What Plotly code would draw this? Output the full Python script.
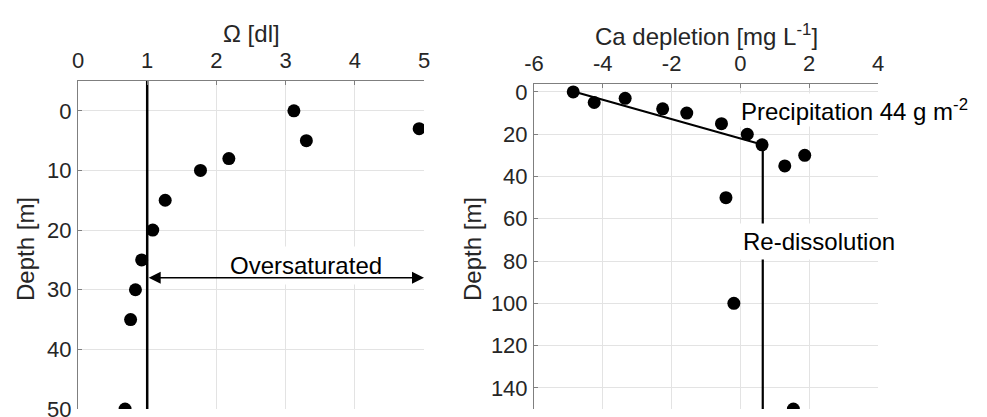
import plotly.graph_objects as go

# ---------------- data ----------------
# Left panel: saturation state Omega vs depth
omega = [3.12, 4.93, 3.30, 2.18, 1.77, 1.26, 1.08, 0.92, 0.83, 0.76, 0.68]
omega_depth = [0, 3, 5, 8, 10, 15, 20, 25, 30, 35, 50]
sat_x = [1, 1]
sat_y = [-5, 50]
omega_ticks = [0, 1, 2, 3, 4, 5]
depth_ticks_left = [0, 10, 20, 30, 40, 50]

# Right panel: Ca depletion vs depth
ca_dep = [-4.86, -4.25, -3.35, -2.26, -1.56, -0.55, 0.20, 0.63, 1.87, 1.29, -0.42, -0.19, 1.54]
ca_depth = [0, 5, 3, 8, 10, 15, 20, 25, 30, 35, 50, 100, 150]
fit_x = [-4.8, 0.65, 0.65]
fit_y = [0, 25, 150]
ca_ticks = [-6, -4, -2, 0, 2, 4]
ca_tick_labels = ["-6", "-4", "-2", "0", "2", "4"]
depth_ticks_right = [0, 20, 40, 60, 80, 100, 120, 140]

W, H = 987, 417
T, B = 81, 8
PH = H - T - B


def px(x):
    return x / W


def py(y):
    return (H - B - y) / PH


FONT = "Liberation Sans, Arial, sans-serif"
TXT = "#262626"
AX = "#7f7f7f"
GRID = "#e3e3e3"

fig = go.Figure()

fig.add_trace(go.Scatter(x=sat_x, y=sat_y, mode="lines",
                         line=dict(color="black", width=2.5),
                         xaxis="x", yaxis="y", showlegend=False, hoverinfo="skip"))
fig.add_trace(go.Scatter(x=omega, y=omega_depth, mode="markers",
                         marker=dict(color="black", size=13),
                         xaxis="x", yaxis="y", showlegend=False))

fig.add_trace(go.Scatter(x=fit_x, y=fit_y, mode="lines",
                         line=dict(color="black", width=2.2),
                         xaxis="x2", yaxis="y2", showlegend=False, hoverinfo="skip"))
fig.add_trace(go.Scatter(x=ca_dep, y=ca_depth, mode="markers",
                         marker=dict(color="black", size=13),
                         xaxis="x2", yaxis="y2", showlegend=False))

axcommon = dict(showline=True, linecolor=AX, linewidth=1, showgrid=True,
                gridcolor=GRID, gridwidth=1, zeroline=False,
                ticks="inside", ticklen=4, tickcolor=AX,
                tickfont=dict(family=FONT, size=22, color=TXT),
                ticklabeloverflow="allow", automargin=False)

fig.update_layout(
    width=W, height=H,
    margin=dict(l=0, r=0, t=T, b=B, pad=0),
    paper_bgcolor="white", plot_bgcolor="white",
    xaxis=dict(domain=[px(78), px(424)], range=[0, 5], side="top",
               tickvals=omega_ticks, anchor="y", ticklabelstandoff=3, **axcommon),
    yaxis=dict(domain=[0, 1], range=[50, -5], tickvals=depth_ticks_left,
               anchor="x", ticklabelstandoff=1, **axcommon),
    xaxis2=dict(domain=[px(534), px(878)], range=[-6, 4], side="top",
                tickvals=ca_ticks, ticktext=ca_tick_labels, anchor="y2",
                ticklabelstandoff=3, **axcommon),
    yaxis2=dict(domain=[0, py(83.5)], range=[150, -4], tickvals=depth_ticks_right,
                anchor="x2", ticklabelstandoff=1, **axcommon),
)

ann = []
# axis titles
ann.append(dict(text="Ω [dl]", xref="paper", yref="paper", x=px(251), y=py(34),
                showarrow=False, xanchor="center", yanchor="middle",
                font=dict(family=FONT, size=24, color=TXT)))
ann.append(dict(text="Ca depletion [mg L<sup>-1</sup>]", xref="paper", yref="paper",
                x=px(706), y=py(35), showarrow=False, xanchor="center", yanchor="middle",
                font=dict(family=FONT, size=24, color=TXT)))
ann.append(dict(text="Depth [m]", xref="paper", yref="paper", x=px(25), y=py(249),
                showarrow=False, textangle=-90, xanchor="center", yanchor="middle",
                font=dict(family=FONT, size=24, color=TXT)))
ann.append(dict(text="Depth [m]", xref="paper", yref="paper", x=px(472), y=py(249),
                showarrow=False, textangle=-90, xanchor="center", yanchor="middle",
                font=dict(family=FONT, size=24, color=TXT)))

# in-plot text
ann.append(dict(text="Oversaturated", xref="x", yref="y", x=3.3, y=26,
                showarrow=False, xanchor="center", yanchor="middle",
                bgcolor="white", borderpad=5,
                font=dict(family=FONT, size=24, color="black")))
ann.append(dict(text="", xref="x", yref="y", x=5, y=28, axref="x", ayref="y",
                ax=1, ay=28, showarrow=True, arrowside="end+start",
                arrowhead=2, arrowsize=1.6, arrowwidth=1.5, arrowcolor="black",
                standoff=0, startstandoff=0))
ann.append(dict(text="Precipitation 44 g m<sup>-2</sup>", xref="x2", yref="y2",
                x=-0.05, y=8.6, showarrow=False, xanchor="left", yanchor="middle",
                bgcolor="white", borderpad=1,
                font=dict(family=FONT, size=24, color="black")))
ann.append(dict(text="Re-dissolution", xref="x2", yref="y2",
                x=-0.08, y=70.8, showarrow=False, xanchor="left", yanchor="middle",
                bgcolor="white", borderpad=4,
                font=dict(family=FONT, size=24, color="black")))

fig.update_layout(annotations=ann)

fig.write_html("out.html",
               config={"displayModeBar": False},
               post_script="document.body.style.margin='0';document.body.style.overflow='hidden';")
